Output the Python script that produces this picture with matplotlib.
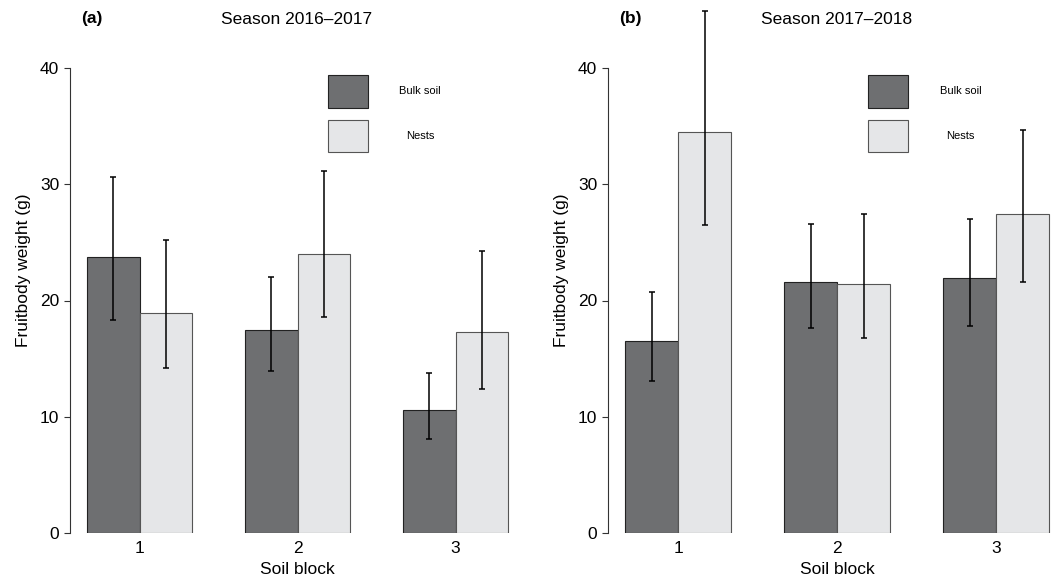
import matplotlib
matplotlib.use("Agg")
import matplotlib.pyplot as plt
from matplotlib.patches import Rectangle
import numpy as np

plt.rcParams['font.family'] = ['Liberation Sans', 'DejaVu Sans']

# Data: mean fruitbody weight (g) with asymmetric interval bounds
blocks = ["1", "2", "3"]
groups = ["Bulk soil", "Nests"]
seasons = ["Season 2016\u20132017", "Season 2017\u20132018"]
panel_tags = ["(a)", "(b)"]

bulk_2016 = [23.7, 17.5, 10.6]
bulk_2016_lo = [18.3, 13.9, 8.1]
bulk_2016_hi = [30.6, 22.0, 13.8]
nests_2016 = [18.9, 24.0, 17.3]
nests_2016_lo = [14.2, 18.6, 12.4]
nests_2016_hi = [25.2, 31.1, 24.3]

bulk_2017 = [16.5, 21.6, 21.9]
bulk_2017_lo = [13.1, 17.6, 17.8]
bulk_2017_hi = [20.7, 26.6, 27.0]
nests_2017 = [34.5, 21.4, 27.4]
nests_2017_lo = [26.5, 16.8, 21.6]
nests_2017_hi = [44.9, 27.4, 34.7]

y_ticks = [0, 10, 20, 30, 40]

bulk_color = "#6e6f71"
nests_color = "#e5e6e8"
FS = 12.5

W, H = 1055, 579
fig = plt.figure(figsize=(W / 100, H / 100), dpi=100)


def px_axes(left, right, top, bottom):
    return [left / W, 1 - bottom / H, (right - left) / W, (bottom - top) / H]


axes_boxes = [px_axes(70.2, 525.0, 49.4, 533.0),
              px_axes(608.0, 1066.4, 49.4, 533.0)]

datasets = [
    (bulk_2016, bulk_2016_lo, bulk_2016_hi, nests_2016, nests_2016_lo, nests_2016_hi),
    (bulk_2017, bulk_2017_lo, bulk_2017_hi, nests_2017, nests_2017_lo, nests_2017_hi),
]

for i, (box, data) in enumerate(zip(axes_boxes, datasets)):
    b, blo, bhi, n, nlo, nhi = data
    ax = fig.add_axes(box)
    centers = np.array([2.0, 5.0, 8.0])
    xb = centers - 0.5
    xn = centers + 0.5

    ax.bar(xb, b, width=1.0, color=bulk_color, edgecolor="#222222", linewidth=0.8, zorder=2)
    ax.bar(xn, n, width=1.0, color=nests_color, edgecolor="#555555", linewidth=0.8, zorder=2)

    b = np.array(b); n = np.array(n)
    ax.errorbar(xb, b, yerr=[b - np.array(blo), np.array(bhi) - b], fmt="none",
                ecolor="black", elinewidth=1.1, capsize=2.4, capthick=1.1,
                zorder=3, clip_on=False)
    ax.errorbar(xn, n, yerr=[n - np.array(nlo), np.array(nhi) - n], fmt="none",
                ecolor="black", elinewidth=1.1, capsize=2.4, capthick=1.1,
                zorder=3, clip_on=False)

    ax.set_xlim(0.68, 9.32)
    ax.set_ylim(0, 41.6)

    for side in ["top", "right", "bottom"]:
        ax.spines[side].set_visible(False)
    ax.spines["left"].set_bounds(0, 40)
    ax.spines["left"].set_color("#333333")
    ax.spines["left"].set_linewidth(0.8)

    ax.set_yticks(y_ticks)
    ax.set_yticklabels([str(t) for t in y_ticks])
    ax.tick_params(axis="y", length=4.3, width=0.8, color="#333333",
                   labelsize=FS, pad=3.5)
    ax.set_xticks(centers)
    ax.set_xticklabels(blocks)
    ax.tick_params(axis="x", length=0, labelsize=FS, pad=5.5)

    # legend boxes and labels
    for (ytop, ybot, ytext), color, edge, label in zip(
            [(0.947, 0.879, 0.914), (0.854, 0.788, 0.820)],
            [bulk_color, nests_color], ["#222222", "#555555"], groups):
        ax.add_patch(Rectangle((0.567, ybot), 0.088, ytop - ybot, transform=ax.transAxes,
                               facecolor=color, edgecolor=edge, linewidth=0.8,
                               clip_on=False))
        ax.text(0.769, ytext, label, transform=ax.transAxes, ha="center", va="center",
                fontsize=8)

    left_px = box[0] * W
    center_px = (box[0] + box[2] / 2) * W
    fig.text(center_px / W, 1 - 569.5 / H, "Soil block", ha="center", va="center", fontsize=FS)
    fig.text((left_px - 46.5) / W, 1 - 270 / H, "Fruitbody weight (g)", rotation=90,
             ha="center", va="center", fontsize=FS)

fig.text(92 / W, 1 - 19 / H, panel_tags[0], ha="center", va="center", fontsize=FS, fontweight="bold")
fig.text(297 / W, 1 - 19 / H, seasons[0], ha="center", va="center", fontsize=FS)
fig.text(630 / W, 1 - 19 / H, panel_tags[1], ha="center", va="center", fontsize=FS, fontweight="bold")
fig.text(837 / W, 1 - 19 / H, seasons[1], ha="center", va="center", fontsize=FS)

fig.savefig("out.png", dpi=100)
